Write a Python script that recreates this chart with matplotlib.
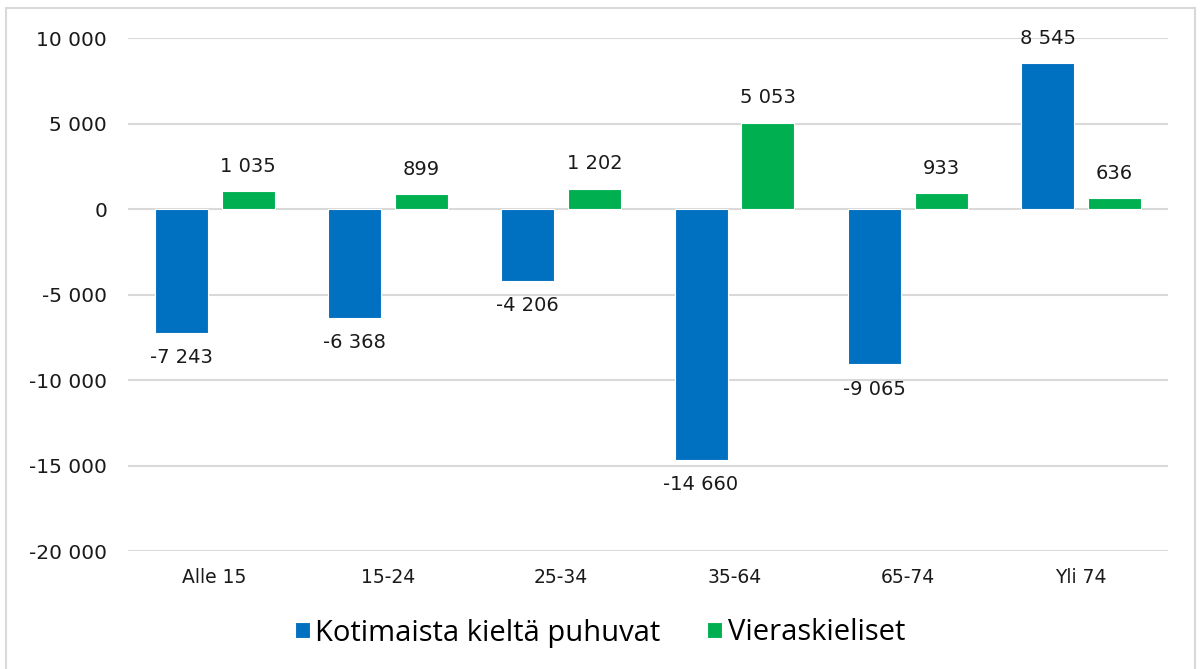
import matplotlib.pyplot as plt
import numpy as np
from matplotlib.patches import Rectangle

categories = ["Alle 15", "15-24", "25-34", "35-64", "65-74", "Yli 74"]
kotimaiset = [-7243, -6368, -4206, -14660, -9065, 8545]
vieraskieliset = [1035, 899, 1202, 5053, 933, 636]
series_names = ["Kotimaista kieltä puhuvat", "Vieraskieliset"]


def fi_fmt(v):
    return "{:,}".format(int(v)).replace(",", " ")


plt.rcParams['font.family'] = ['DejaVu Sans']

fig = plt.figure(figsize=(12, 6.69), dpi=100)
ax = fig.add_axes([0.1067, 0.176, 0.8663, 0.767])

x = np.arange(len(categories))
w = 0.306
b1 = ax.bar(x - 0.193, kotimaiset, w, color="#0070C0", edgecolor="white", linewidth=0.8,
            label=series_names[0], zorder=3)
b2 = ax.bar(x + 0.193, vieraskieliset, w, color="#00B050", edgecolor="white", linewidth=0.8,
            label=series_names[1], zorder=3)

for bars in (b1, b2):
    ax.bar_label(bars, labels=[fi_fmt(b.get_height()) for b in bars], padding=11,
                 fontsize=14, color="#1a1a1a")

ax.set_xlim(-0.5, 5.5)
ax.set_ylim(-20000, 10000)
ax.set_yticks(range(-20000, 10001, 5000))
ax.set_yticklabels([fi_fmt(v) for v in range(-20000, 10001, 5000)])
ax.set_xticks(x)
ax.set_xticklabels(categories)
ax.tick_params(axis="both", length=0, labelsize=13.5, labelcolor="#1a1a1a")
ax.tick_params(axis="y", labelsize=14.5, pad=15)
ax.tick_params(axis="x", pad=12)
ax.grid(axis="y", color="#D9D9D9", linewidth=1.5, zorder=0)
for sp in ax.spines.values():
    sp.set_visible(False)

fig.patches.append(Rectangle((6 / 1200, -0.01), 1189 / 1200, 1 - 8 / 669 + 0.01,
                             transform=fig.transFigure, fill=False,
                             edgecolor="#D9D9D9", linewidth=1.5))

fig.legend(loc="center", bbox_to_anchor=(0.5, 1 - 633 / 669), ncol=2, frameon=False,
           handlelength=0.5, handleheight=0.5, handletextpad=0.2, columnspacing=1.6,
           prop={"family": "Open Sans", "size": 21})

fig.savefig("out.png", dpi=100)
